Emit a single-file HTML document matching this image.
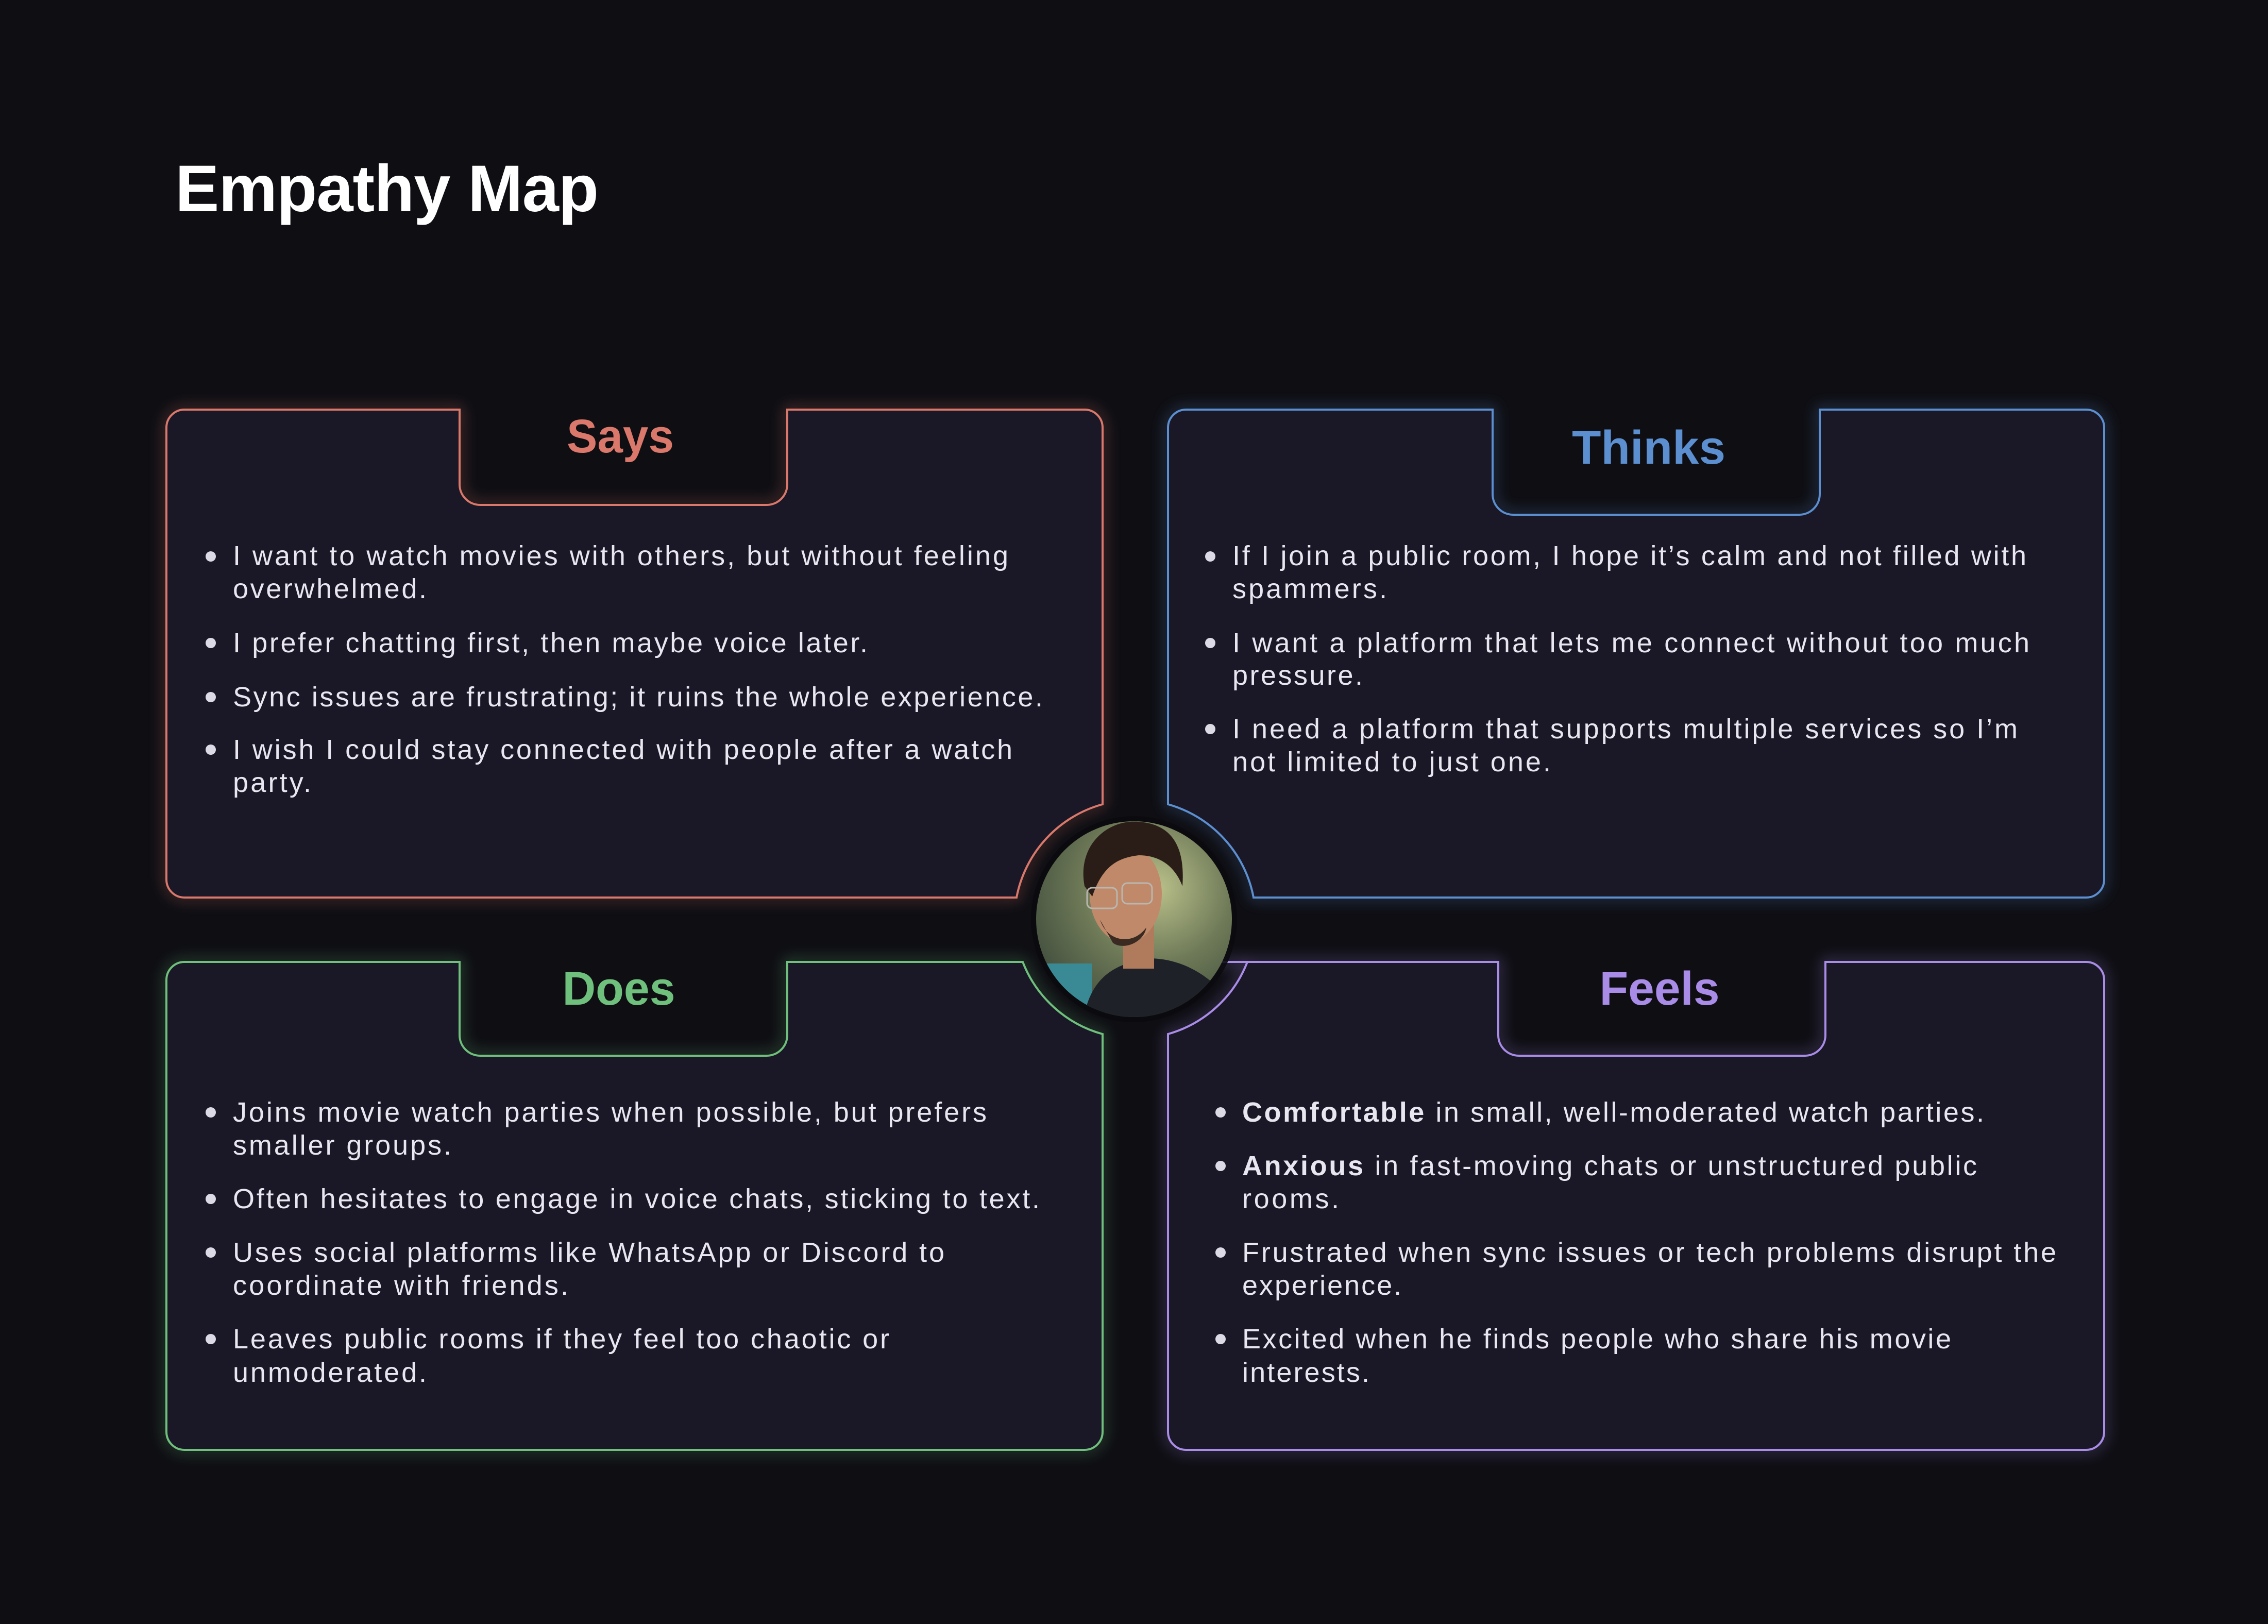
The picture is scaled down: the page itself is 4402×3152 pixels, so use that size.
<!DOCTYPE html>
<html><head><meta charset="utf-8"><style>
html,body{margin:0;padding:0;background:#0e0e13;}
svg{display:block}
text{font-family:"Liberation Sans",sans-serif;}
</style></head><body>
<svg width="4402" height="3152" viewBox="0 0 4402 3152" xmlns="http://www.w3.org/2000/svg">
<defs>
<filter id="g" x="-10%" y="-10%" width="120%" height="120%"><feGaussianBlur stdDeviation="14"/></filter>
<radialGradient id="bgp" cx="0.6" cy="0.35" r="0.7"><stop offset="0" stop-color="#b9c08a"/><stop offset="0.5" stop-color="#6f7a58"/><stop offset="1" stop-color="#3d4a3a"/></radialGradient>
<clipPath id="cp"><circle cx="2201" cy="1784" r="190"/></clipPath>
</defs>
<rect width="4402" height="3152" fill="#0e0e13"/>
<text x="340" y="410" font-size="128" font-weight="bold" fill="#ffffff" textLength="822" lengthAdjust="spacing">Empathy Map</text>

<g filter="url(#g)" opacity="0.45" fill="none" stroke-width="10">
<path stroke="#d9786b" d="M358 795H892V940A40 40 0 0 0 932 980H1488A40 40 0 0 0 1528 940V795H2105A35 35 0 0 1 2140 830V1561A233 233 0 0 0 1973 1742H358A35 35 0 0 1 323 1707V830A35 35 0 0 1 358 795Z"/>
<path stroke="#5b8fd0" d="M2302 795H2897V959A40 40 0 0 0 2937 999H3492A40 40 0 0 0 3532 959V795H4049A35 35 0 0 1 4084 830V1707A35 35 0 0 1 4049 1742H2433A233 233 0 0 0 2267 1561V830A35 35 0 0 1 2302 795Z"/>
<path stroke="#6fc07c" d="M358 1867H892V2009A40 40 0 0 0 932 2049H1488A40 40 0 0 0 1528 2009V1867H1985A233 233 0 0 0 2140 2007V2779A35 35 0 0 1 2105 2814H358A35 35 0 0 1 323 2779V1902A35 35 0 0 1 358 1867Z"/>
<path stroke="#a98ce8" d="M2302 1867H2908V2009A40 40 0 0 0 2948 2049H3503A40 40 0 0 0 3543 2009V1867H4049A35 35 0 0 1 4084 1902V2779A35 35 0 0 1 4049 2814H2302A35 35 0 0 1 2267 2779V2007A233 233 0 0 0 2421 1867Z"/>
</g>
<g fill="#1a1727" stroke-width="4">
<path stroke="#d9786b" d="M358 795H892V940A40 40 0 0 0 932 980H1488A40 40 0 0 0 1528 940V795H2105A35 35 0 0 1 2140 830V1561A233 233 0 0 0 1973 1742H358A35 35 0 0 1 323 1707V830A35 35 0 0 1 358 795Z"/>
<path stroke="#5b8fd0" d="M2302 795H2897V959A40 40 0 0 0 2937 999H3492A40 40 0 0 0 3532 959V795H4049A35 35 0 0 1 4084 830V1707A35 35 0 0 1 4049 1742H2433A233 233 0 0 0 2267 1561V830A35 35 0 0 1 2302 795Z"/>
<path stroke="#6fc07c" d="M358 1867H892V2009A40 40 0 0 0 932 2049H1488A40 40 0 0 0 1528 2009V1867H1985A233 233 0 0 0 2140 2007V2779A35 35 0 0 1 2105 2814H358A35 35 0 0 1 323 2779V1902A35 35 0 0 1 358 1867Z"/>
<path stroke="#a98ce8" d="M2302 1867H2908V2009A40 40 0 0 0 2948 2049H3503A40 40 0 0 0 3543 2009V1867H4049A35 35 0 0 1 4084 1902V2779A35 35 0 0 1 4049 2814H2302A35 35 0 0 1 2267 2779V2007A233 233 0 0 0 2421 1867Z"/>
</g>

<g font-size="92" font-weight="bold" text-anchor="middle">
<text x="1204" y="878" fill="#d9786b" textLength="208" lengthAdjust="spacingAndGlyphs">Says</text>
<text x="3200" y="900" fill="#5b8fd0" textLength="298" lengthAdjust="spacingAndGlyphs">Thinks</text>
<text x="1201" y="1950" fill="#6fc07c" textLength="219" lengthAdjust="spacingAndGlyphs">Does</text>
<text x="3221" y="1950" fill="#a98ce8" textLength="233" lengthAdjust="spacingAndGlyphs">Feels</text>
</g>

<g fill="#dcdae4">
<circle cx="409" cy="1080" r="10"/><circle cx="409" cy="1248" r="10"/><circle cx="409" cy="1353" r="10"/><circle cx="409" cy="1455" r="10"/>
<circle cx="2349" cy="1080" r="10"/><circle cx="2349" cy="1248" r="10"/><circle cx="2349" cy="1415" r="10"/>
<circle cx="409" cy="2159" r="10"/><circle cx="409" cy="2327" r="10"/><circle cx="409" cy="2431" r="10"/><circle cx="409" cy="2599" r="10"/>
<circle cx="2369" cy="2159" r="10"/><circle cx="2369" cy="2263" r="10"/><circle cx="2369" cy="2431" r="10"/><circle cx="2369" cy="2599" r="10"/>
</g>

<g font-size="54" fill="#e8e6ef" lengthAdjust="spacing">
<text x="452" y="1097" textLength="1505">I want to watch movies with others, but without feeling</text>
<text x="452" y="1161" textLength="376">overwhelmed.</text>
<text x="452" y="1266" textLength="1232">I prefer chatting first, then maybe voice later.</text>
<text x="452" y="1371" textLength="1572">Sync issues are frustrating; it ruins the whole experience.</text>
<text x="452" y="1473" textLength="1513">I wish I could stay connected with people after a watch</text>
<text x="452" y="1537" textLength="152">party.</text>

<text x="2392" y="1097" textLength="1541">If I join a public room, I hope it’s calm and not filled with</text>
<text x="2392" y="1161" textLength="300">spammers.</text>
<text x="2392" y="1266" textLength="1547">I want a platform that lets me connect without too much</text>
<text x="2392" y="1329" textLength="253">pressure.</text>
<text x="2392" y="1433" textLength="1524">I need a platform that supports multiple services so I’m</text>
<text x="2392" y="1497" textLength="618">not limited to just one.</text>

<text x="452" y="2177" textLength="1463">Joins movie watch parties when possible, but prefers</text>
<text x="452" y="2241" textLength="424">smaller groups.</text>
<text x="452" y="2345" textLength="1566">Often hesitates to engage in voice chats, sticking to text.</text>
<text x="452" y="2449" textLength="1381">Uses social platforms like WhatsApp or Discord to</text>
<text x="452" y="2513" textLength="651">coordinate with friends.</text>
<text x="452" y="2617" textLength="1274">Leaves public rooms if they feel too chaotic or</text>
<text x="452" y="2682" textLength="376">unmoderated.</text>

<text x="2411" y="2177" textLength="1440"><tspan font-weight="bold">Comfortable</tspan> in small, well-moderated watch parties.</text>
<text x="2411" y="2281" textLength="1426"><tspan font-weight="bold">Anxious</tspan> in fast-moving chats or unstructured public</text>
<text x="2411" y="2345" textLength="188">rooms.</text>
<text x="2411" y="2449" textLength="1580">Frustrated when sync issues or tech problems disrupt the</text>
<text x="2411" y="2513" letter-spacing="3">experience.</text>
<text x="2411" y="2617" textLength="1376">Excited when he finds people who share his movie</text>
<text x="2411" y="2682" textLength="247">interests.</text>
</g>

<circle cx="2201" cy="1784" r="200" fill="#0b0b10" opacity="0.9"/>
<g clip-path="url(#cp)">
<rect x="2000" y="1580" width="410" height="410" fill="url(#bgp)"/>
<rect x="2000" y="1870" width="120" height="120" fill="#3a8a95"/>
<path d="M2100 2000 C2110 1890 2170 1870 2230 1860 C2300 1860 2360 1900 2400 1960 L2400 2000Z" fill="#1e2127"/>
<rect x="2180" y="1790" width="60" height="90" fill="#b07a5c"/>
<ellipse cx="2185" cy="1735" rx="70" ry="95" fill="#c08a6a"/>
<path d="M2105 1720 C2090 1640 2150 1590 2210 1595 C2280 1600 2300 1650 2295 1720 C2280 1680 2250 1660 2210 1660 C2170 1665 2140 1680 2120 1740Z" fill="#2a1d17"/>
<path d="M2135 1785 C2150 1830 2200 1835 2225 1800 C2220 1830 2180 1845 2160 1830Z" fill="#3a2a22"/>
<g fill="none" stroke="#b9b7b0" stroke-width="3"><rect x="2110" y="1723" width="58" height="40" rx="10"/><rect x="2178" y="1714" width="58" height="40" rx="10"/></g>
</g>
</svg>
</body></html>
